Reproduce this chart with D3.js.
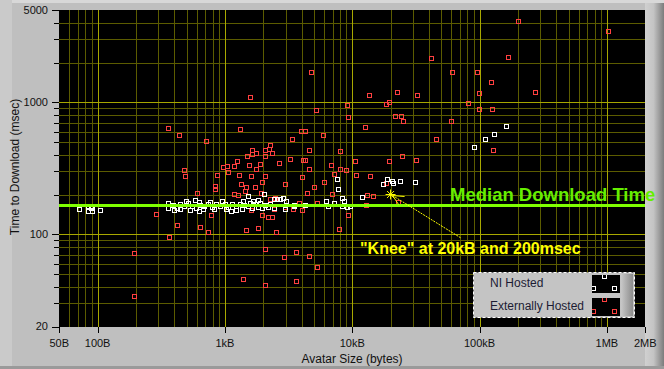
<!DOCTYPE html>
<html>
<head>
<meta charset="utf-8">
<script src="https://cdn.jsdelivr.net/npm/d3@7"></script>
<style>
  body { margin: 0; background: #c0c0c0; }
  svg { display: block; }
</style>
</head>
<body>
<div id="chart"></div>
<script>
// avatar size (bytes), time to download (msec)
var niHosted = [
  [72,155],[84,164],[91,164],[84,150],[91,150],[88,157],[104,152],
  [160300,658],[129000,572],[109600,524],[89850,456],
  [7540,261],[7680,219],[18630,261],[20400,252],[20770,243],[17330,239],[23570,252],[30910,248],
  [11860,191],[2014,201],[1508,194],[2413,184],[2547,184],[2690,184],[2840,187],
  [6180,178],[6408,163],[7140,172],[8257,187],[8559,178],[8257,163],[9040,160],[9540,163],
  [3000,178],[3464,166],[4230,166],[2944,155],[3464,163],[2413,157],
  [355,172],[355,159],[388,167],[417,157],[446,170],[480,164],[516,173],[528,152],[555,164],
  [578,181],[621,177],[596,158],[641,167],[689,164],[741,170],[796,161],[856,170],[920,164],
  [997,170],[1063,161],[1123,150],[1143,170],[1229,164],[1321,170],[1370,155],[1420,167],
  [1527,164],[1583,173],[1641,158],[1734,170],[1830,161],[1897,173],[1967,158],[2077,167],
  [2192,161],[2273,170],[1229,153],[1026,155],[826,155],[677,155],[621,150],[446,155],
  [398,153],[497,179],[768,177],[954,179],[1394,179],[1671,179],[1830,181]
];
var externallyHosted = [
  [199000,4110],[1014000,3451],[41300,2154],[166200,2192],[60400,1688],[94900,1688],[4710,1688],
  [122200,1418],[98400,1170],[270800,1191],[32000,1130],[22300,1191],[13450,1130],[1563,1091],
  [19300,1000],[18300,966],[9040,949],[80600,983],[98400,885],[124400,885],[5160,870],
  [9200,770],[21500,783],[24000,783],[24900,718],[59300,718],[12500,647],[355,636],[1305,625],
  [3930,603],[4230,603],[433,562],[5850,562],[3340,524],[45200,524],[705,506],[2240,472],
  [4540,433],[7960,425],[126700,433],[1620,433],[1480,390],[1620,404],[1740,411],[2050,433],
  [2200,441],[2330,411],[2050,390],[24400,390],[31500,367],[3220,370],[4080,364],[4230,364],
  [10520,357],[19300,357],[2640,345],[1535,333],[1873,339],[1236,357],[1170,327],[1031,327],
  [967,322],[6770,333],[1740,311],[4540,311],[7960,311],[8870,305],[474,305],[1050,295],
  [7140,285],[861,280],[1281,280],[1592,275],[2050,275],[482,275],[10630,280],[13700,275],
  [4000,270],[1942,248],[5960,248],[18300,243],[1328,239],[2944,239],[830,231],[830,219],
  [1455,227],[1711,227],[4977,227],[1428,212],[599,204],[1170,201],[1258,197],[1907,204],
  [4384,204],[6890,201],[12970,197],[14460,194],[2240,184],[2457,187],[3793,172],[5253,172],
  [8559,178],[22730,175],[12740,166],[2944,160],[3402,155],[4000,152],[2413,155],[1592,152],
  [286,142],[772,139],[1942,139],[2164,134],[2330,134],[9200,139],[417,117],[633,113],
  [1806,111],[7818,109],[1455,107],[731,104],[2502,104],[361,95],[2050,77],[3593,73],
  [192,72],[4540,68],[2891,67],[5253,56],[1377,46],[3593,44],[2050,41],[192,34]
];
var xTickValues = [50, 100, 1000, 10000, 100000, 1000000, 2000000];
var xTickLabels = ["50B", "100B", "1kB", "10kB", "100kB", "1MB", "2MB"];
var yTickValues = [20, 100, 1000, 5000];
var medianTime = 165;
var kneePoint = [20000, 200];
var kneeArrowTail = [71000, 94];
var legendNames = ["NI Hosted", "Externally Hosted"];
var legendColors = ["#ffffff", "#ff4040"];

var width = 664, height = 369;
var plot = { left: 59, right: 645, top: 10, bottom: 327 };

var x = d3.scaleLog().domain([50, 2000000]).range([59.3, 645.2]);
var y = d3.scaleLog().domain([20, 5000]).range([326.5, 10]);
function px(v) { return Math.round(x(v)) + 0.5; }
function py(v) { return Math.round(y(v)) + 0.5; }

var svg = d3.select("#chart").append("svg")
  .attr("width", width).attr("height", height)
  .style("font-family", "'Liberation Sans', Arial, sans-serif");

var defs = svg.append("defs");
var bevel = defs.append("linearGradient").attr("id", "bevel");
bevel.append("stop").attr("offset", "0%").attr("stop-color", "#d0d0d0");
bevel.append("stop").attr("offset", "45%").attr("stop-color", "#c4c4c4");
bevel.append("stop").attr("offset", "100%").attr("stop-color", "#7c7c7c");
var legBevel = defs.append("linearGradient").attr("id", "legBevel");
legBevel.append("stop").attr("offset", "0%").attr("stop-color", "#c8c8c8");
legBevel.append("stop").attr("offset", "100%").attr("stop-color", "#8c8c8c");
defs.append("clipPath").attr("id", "plotClip").append("rect")
  .attr("x", plot.left).attr("y", plot.top)
  .attr("width", plot.right - plot.left).attr("height", plot.bottom - plot.top);

// panel background
svg.append("rect").attr("width", width).attr("height", height).attr("fill", "#bfbfbf");
svg.append("rect").attr("width", width).attr("height", 3).attr("fill", "#d8d8d8");
svg.append("rect").attr("x", 0).attr("y", 0).attr("width", 12).attr("height", height).attr("fill", "#cacaca");
svg.append("rect").attr("x", 0).attr("y", height - 3).attr("width", width).attr("height", 3).attr("fill", "#9a9a9a");
svg.append("rect").attr("x", plot.right).attr("y", 3).attr("width", width - plot.right).attr("height", height - 6)
  .attr("fill", "url(#bevel)");

// plot area
svg.append("rect").attr("x", plot.left).attr("y", plot.top)
  .attr("width", plot.right - plot.left).attr("height", plot.bottom - plot.top)
  .attr("fill", "#000");

var g = svg.append("g").attr("clip-path", "url(#plotClip)");

function isMajor(v) { var l = Math.log10(v); return Math.abs(l - Math.round(l)) < 1e-9; }

var xGrid = x.ticks().filter(function (v) { return v > 50 && v < 2000000; });
var yGrid = y.ticks().filter(function (v) { return v > 20 && v < 5000; });

g.selectAll("line.xMinor").data(xGrid.filter(function (v) { return !isMajor(v); }))
  .enter().append("line").attr("class", "xMinor")
  .attr("x1", px).attr("x2", px).attr("y1", plot.top).attr("y2", plot.bottom)
  .attr("stroke", "#5c5c00");
g.selectAll("line.yMinor").data(yGrid.filter(function (v) { return !isMajor(v); }))
  .enter().append("line").attr("class", "yMinor")
  .attr("y1", py).attr("y2", py).attr("x1", plot.left).attr("x2", plot.right)
  .attr("stroke", "#5c5c00");
g.selectAll("line.xMajor").data(xGrid.filter(isMajor))
  .enter().append("line").attr("class", "xMajor")
  .attr("x1", px).attr("x2", px).attr("y1", plot.top).attr("y2", plot.bottom)
  .attr("stroke", "#a8a800");
g.selectAll("line.yMajor").data(yGrid.filter(isMajor))
  .enter().append("line").attr("class", "yMajor")
  .attr("y1", py).attr("y2", py).attr("x1", plot.left).attr("x2", plot.right)
  .attr("stroke", "#a8a800");

// points
function drawSquares(data, color) {
  g.append("g").selectAll("rect").data(data).enter().append("rect")
    .attr("x", function (d) { return Math.round(x(d[0])) - 2 + 0.5; })
    .attr("y", function (d) { return Math.round(y(d[1])) - 2 + 0.5; })
    .attr("width", 4).attr("height", 4)
    .attr("fill", "none").attr("stroke", color).attr("stroke-width", 1);
}
drawSquares(externallyHosted, legendColors[1]);
drawSquares(niHosted, legendColors[0]);

// median line
svg.append("line")
  .attr("x1", plot.left).attr("x2", plot.right)
  .attr("y1", y(medianTime)).attr("y2", y(medianTime))
  .attr("stroke", "#80ff00").attr("stroke-width", 3);
svg.append("text")
  .attr("x", 450).attr("y", 201)
  .attr("fill", "#66ee00").attr("font-weight", "bold").attr("font-size", 18.5)
  .text("Median Download Time");

// knee annotation
var kx = x(kneePoint[0]), ky = y(kneePoint[1]);
var knee = svg.append("g").attr("stroke", "#ffff00").attr("stroke-width", 1);
[0, 45, 90, 135].forEach(function (a) {
  var r = a * Math.PI / 180;
  knee.append("line")
    .attr("x1", kx - 5 * Math.cos(r)).attr("y1", ky - 5 * Math.sin(r))
    .attr("x2", kx + 5 * Math.cos(r)).attr("y2", ky + 5 * Math.sin(r));
});
knee.append("line").attr("x1", kx + 2).attr("y1", ky + 1)
  .attr("x2", x(kneeArrowTail[0])).attr("y2", y(kneeArrowTail[1]))
  .attr("stroke-dasharray", "2,1");
knee.append("line").attr("x1", kx + 2).attr("y1", ky + 1).attr("x2", kx + 14).attr("y2", ky + 2);
knee.append("line").attr("x1", kx + 2).attr("y1", ky + 1).attr("x2", kx + 8).attr("y2", ky + 10);
svg.append("text")
  .attr("x", 360).attr("y", 254)
  .attr("fill", "#ffff00").attr("font-weight", "bold").attr("font-size", 16)
  .text("\"Knee\" at 20kB and 200msec");

// y axis
var yAxisG = svg.append("g");
yAxisG.selectAll("line.tick").data(y.ticks()).enter().append("line")
  .attr("x1", function (d) { return yTickValues.indexOf(d) >= 0 ? 52 : 54; }).attr("x2", plot.left)
  .attr("y1", py).attr("y2", py).attr("stroke", "#000");
yAxisG.selectAll("text").data(yTickValues).enter().append("text")
  .attr("x", 48).attr("y", function (d) { return y(d); }).attr("dy", "0.36em")
  .attr("text-anchor", "end").attr("font-size", 11).attr("fill", "#111")
  .text(function (d) { return d; });
svg.append("text")
  .attr("transform", "translate(19," + 167 + ") rotate(-90)")
  .attr("text-anchor", "middle").attr("font-size", 12).attr("fill", "#111")
  .text("Time to Download (msec)");

// x axis
var xAxisG = svg.append("g");
xAxisG.selectAll("line").data(xTickValues).enter().append("line")
  .attr("x1", px).attr("x2", px).attr("y1", plot.bottom).attr("y2", plot.bottom + 6)
  .attr("stroke", "#000");
xAxisG.selectAll("text").data(xTickValues).enter().append("text")
  .attr("x", function (d) { return x(d); }).attr("y", 347)
  .attr("text-anchor", "middle").attr("font-size", 11).attr("fill", "#111")
  .text(function (d, i) { return xTickLabels[i]; });
svg.append("text")
  .attr("x", 352).attr("y", 363)
  .attr("text-anchor", "middle").attr("font-size", 12).attr("fill", "#111")
  .text("Avatar Size (bytes)");

// legend
var leg = svg.append("g");
leg.append("rect").attr("x", 473.5).attr("y", 272.5).attr("width", 161).attr("height", 45)
  .attr("fill", "#c4c4c4");
leg.append("rect").attr("x", 621).attr("y", 274).attr("width", 12).attr("height", 42)
  .attr("fill", "url(#legBevel)");
leg.append("rect").attr("x", 473.5).attr("y", 272.5).attr("width", 161).attr("height", 45)
  .attr("fill", "none").attr("stroke", "#fff").attr("stroke-dasharray", "3,2");
legendNames.forEach(function (name, i) {
  var top = 275 + i * 23;
  leg.append("text").attr("x", 490).attr("y", top + 12).attr("font-size", 12).attr("fill", "#1c1c34")
    .text(name);
  var sw = leg.append("g");
  var cid = "sw" + i;
  defs.append("clipPath").attr("id", cid).append("rect")
    .attr("x", 592).attr("y", top).attr("width", 28).attr("height", 18);
  sw.append("rect").attr("x", 592).attr("y", top).attr("width", 28).attr("height", 18).attr("fill", "#000");
  var sq = sw.append("g").attr("clip-path", "url(#" + cid + ")");
  [[604, top + 1], [593, top + 13], [614, top + 13]].forEach(function (c) {
    sq.append("rect").attr("x", c[0] - 2 + 0.5).attr("y", c[1] - 2 + 0.5).attr("width", 4).attr("height", 4)
      .attr("fill", "none").attr("stroke", legendColors[i]);
  });
});
</script>
</body>
</html>
